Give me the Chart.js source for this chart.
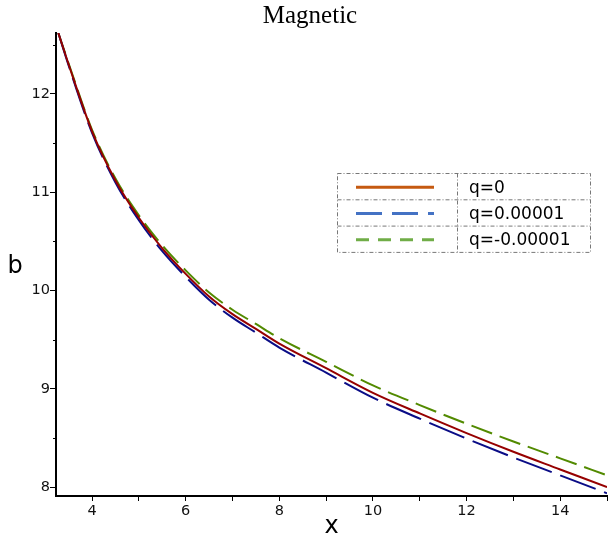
<!DOCTYPE html>
<html>
<head>
<meta charset="utf-8">
<script src="https://cdn.jsdelivr.net/npm/chart.js@4.4.1/dist/chart.umd.min.js"></script>
<style>
  body { margin: 0; background: #fff; }
  canvas { display: block; }
</style>
</head>
<body>
<canvas id="chart" width="609" height="541"></canvas>
<script>
// ---------------- DATA ----------------
const xValues = [3.28, 3.5, 4, 4.5, 5, 5.5, 6, 6.5, 7, 7.5, 8, 9, 10, 11, 12, 13, 14, 15];
const bQ0     = [12.62, 12.30, 11.62, 11.12, 10.74, 10.43, 10.17, 9.94, 9.76, 9.61, 9.46, 9.21, 8.96, 8.75, 8.55, 8.36, 8.18, 8.00];
const bQplus  = [12.62, 12.29, 11.605, 11.10, 10.715, 10.40, 10.14, 9.907, 9.724, 9.572, 9.42, 9.165, 8.91, 8.697, 8.494, 8.302, 8.12, 7.938];
const bQminus = [12.62, 12.31, 11.635, 11.14, 10.765, 10.46, 10.205, 9.98, 9.805, 9.66, 9.515, 9.275, 9.035, 8.835, 8.645, 8.465, 8.293, 8.12];

const seriesLabels = ["q=0", "q=0.00001", "q=-0.00001"];
const lineColors   = ["#960000", "#0a0c86", "#528a00"];
const legendColors = ["#c55a11", "#4472c4", "#70ad47"];
const lineDashes   = [[], [38, 9], [22, 8]];
const legendDashes = [[], [26, 10], [13, 9]];

const xTicks = [4, 5, 6, 7, 8, 9, 10, 11, 12, 13, 14, 15];
const yTicks = [8, 8.5, 9, 9.5, 10, 10.5, 11, 11.5, 12, 12.5];

const titleText = "Magnetic";
const xTitle = "x";
const yTitle = "b";

// ---------------- EXTRA DRAWING ----------------
const decor = {
    id: "decor",
    afterDraw(chart) {
        const ctx = chart.ctx;
        const ys = chart.scales.y;
        const xs = chart.scales.x;
        ctx.save();

        // title
        ctx.fillStyle = "#000";
        ctx.font = "25px 'Liberation Serif'";
        ctx.textAlign = "center";
        ctx.textBaseline = "middle";
        ctx.fillText(titleText, 310, 16);

        // axis labels (both upright)
        ctx.font = "24px 'DejaVu Sans'";
        ctx.fillText(yTitle, 15, (ys.top + ys.bottom) / 2 + 2);
        ctx.fillText(xTitle, (xs.left + xs.right) / 2, 527);

        // minor y ticks
        ctx.strokeStyle = "#000";
        ctx.lineWidth = 1;
        yTicks.forEach(v => {
            if (Number.isInteger(v)) return;
            const py = Math.round(ys.getPixelForValue(v)) + 0.5;
            ctx.beginPath();
            ctx.moveTo(ys.right - 3, py);
            ctx.lineTo(ys.right, py);
            ctx.stroke();
        });

        // legend table
        const lx = 337.5, ly = 173.5, lw = 253, rowH = 26.3, colX = 457.5;
        ctx.strokeStyle = "#777";
        ctx.setLineDash([4, 2, 1, 2]);
        ctx.strokeRect(lx, ly, lw, rowH * 3);
        ctx.beginPath();
        ctx.moveTo(lx, ly + rowH); ctx.lineTo(lx + lw, ly + rowH);
        ctx.moveTo(lx, ly + rowH * 2); ctx.lineTo(lx + lw, ly + rowH * 2);
        ctx.moveTo(colX, ly); ctx.lineTo(colX, ly + rowH * 3);
        ctx.stroke();

        ctx.textAlign = "left";
        ctx.font = "17px 'DejaVu Sans'";
        seriesLabels.forEach((lab, i) => {
            const cy = ly + rowH * i + rowH / 2 + 0.5;
            ctx.setLineDash(legendDashes[i]);
            ctx.strokeStyle = legendColors[i];
            ctx.lineWidth = 3;
            ctx.beginPath();
            ctx.moveTo(356, cy);
            ctx.lineTo(434, cy);
            ctx.stroke();
            ctx.fillStyle = "#000";
            ctx.fillText(lab, 469, cy + 1);
        });
        ctx.restore();
    }
};

// ---------------- CHART ----------------
const tickFont = { family: "DejaVu Sans", size: 14.5 };
const series = [bQ0, bQplus, bQminus];

new Chart(document.getElementById("chart"), {
    type: "line",
    data: {
        datasets: series.map((arr, i) => ({
            label: seriesLabels[i],
            data: arr.map((y, k) => ({ x: xValues[k], y })),
            borderColor: lineColors[i],
            borderDash: lineDashes[i],
            borderWidth: 2,
            pointRadius: 0,
            cubicInterpolationMode: "monotone",
            fill: false
        }))
    },
    options: {
        responsive: false,
        animation: false,
        layout: { padding: { top: 33, right: 0, left: 0, bottom: 0 } },
        plugins: {
            legend: { display: false },
            title: { display: false },
            tooltip: { enabled: false }
        },
        scales: {
            x: {
                type: "linear",
                min: 3.23,
                max: 15,
                afterBuildTicks: s => { s.ticks = xTicks.map(v => ({ value: v })); },
                afterFit: s => { s.height = 45; },
                ticks: {
                    autoSkip: false,
                    maxRotation: 0,
                    padding: 2,
                    color: "#111",
                    font: tickFont,
                    callback: v => (v % 2 === 0 ? v : "")
                },
                grid: { drawOnChartArea: false, drawTicks: true, tickLength: 5, color: "#000" },
                border: { color: "#000", width: 2 }
            },
            y: {
                type: "linear",
                min: 7.91,
                max: 12.62,
                afterBuildTicks: s => { s.ticks = yTicks.map(v => ({ value: v })); },
                afterFit: s => { s.width = 56; },
                ticks: {
                    autoSkip: false,
                    padding: 0,
                    color: "#111",
                    font: tickFont,
                    callback: v => (Number.isInteger(v) ? v : "")
                },
                grid: {
                    drawOnChartArea: false,
                    drawTicks: true,
                    tickLength: 6,
                    color: "#000",
                    tickColor: c => (Number.isInteger(c.tick.value) ? "#000" : "rgba(0,0,0,0)")
                },
                border: { color: "#000", width: 2 }
            }
        }
    },
    plugins: [decor]
});
</script>
</body>
</html>
